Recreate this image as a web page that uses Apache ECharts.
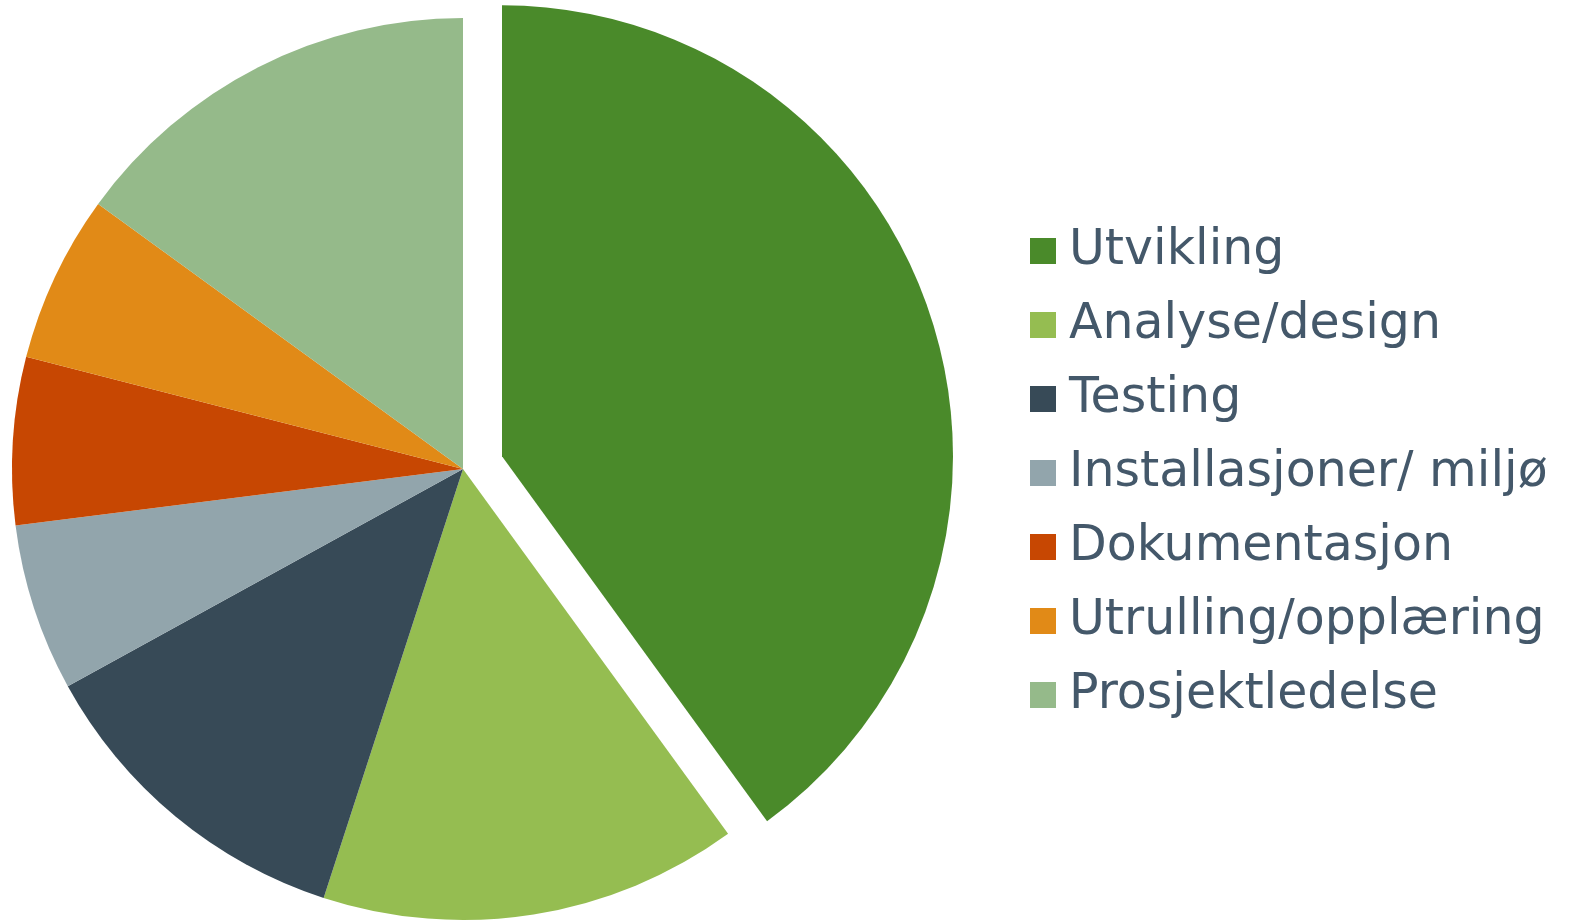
<!DOCTYPE html>
<html>
<head>
<meta charset="utf-8">
<script src="https://cdn.jsdelivr.net/npm/echarts@6/dist/echarts.min.js"></script>
<style>
  html, body { margin: 0; padding: 0; background: #fff; }
  #pie-chart { width: 1570px; height: 921px; }
</style>
</head>
<body>
<div id="pie-chart"></div>
<script>
// data (percent of total)
var categories = ['Utvikling', 'Analyse/design', 'Testing', 'Installasjoner/ miljø', 'Dokumentasjon', 'Utrulling/opplæring', 'Prosjektledelse'];
var values = [40, 15, 12, 6, 6, 6, 15];
var colors = ['#4a8a2a', '#95bd51', '#374a57', '#92a5ac', '#c74702', '#e18a17', '#95ba8a'];

var myChart = echarts.init(document.getElementById('pie-chart'));

var option = {
  animation: false,
  color: colors,
  legend: {
    orient: 'vertical',
    left: 1030,
    top: 226,
    padding: 0,
    itemWidth: 26,
    itemHeight: 26,
    itemGap: 24,
    icon: 'rect',
    selectedMode: false,
    textStyle: {
      fontFamily: 'DejaVu Sans',
      fontSize: 49,
      lineHeight: 50,
      color: '#44586a',
      padding: [0, 0, 0, 8]
    },
    data: categories
  },
  series: [{
    type: 'pie',
    center: [463, 469],
    radius: 451,
    startAngle: 90,
    clockwise: true,
    selectedMode: 'single',
    selectedOffset: 41,
    label: { show: false },
    labelLine: { show: false },
    emphasis: { disabled: true },
    itemStyle: { borderWidth: 0 },
    data: categories.map(function (name, i) {
      return { name: name, value: values[i], selected: i === 0 };
    })
  }]
};

myChart.setOption(option);
</script>
</body>
</html>
